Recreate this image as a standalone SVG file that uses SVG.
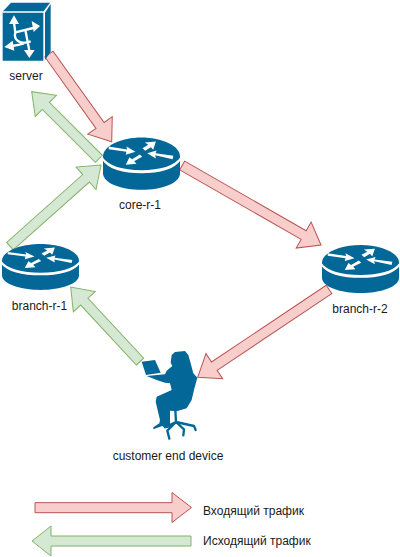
<svg xmlns="http://www.w3.org/2000/svg" xmlns:xlink="http://www.w3.org/1999/xlink" width="400" height="557" viewBox="0 0 400 557">
<style>
text{font-family:"Liberation Sans",Arial,sans-serif;font-size:12px;fill:#1a1a1a}
.m{text-anchor:middle}
.in{fill:#f8cecc;stroke:#b85450;stroke-width:1}
.out{fill:#d5e8d4;stroke:#82b366;stroke-width:1}
.blue{fill:#036897}
.wf{fill:#fff}
.ln{stroke:#fff;stroke-width:7;fill:none}
.st{stroke:#036897;stroke-width:7;fill:none;stroke-linecap:round;stroke-linejoin:round}
</style>
<defs>
<g id="router">
<path class="blue" d="M40,110V160C40,190 95,210 155,210S270,190 270,160V110C270,78 215,53 155,53S40,78 40,110z"/>
<path class="wf" d="M36,108C55,140 100,151 155,151S255,140 274,108V118C255,149 210,160 155,160S55,149 36,118z"/>
<polygon class="wf" points="57,80 112,89 110,80 137,96 108,105 110,96 57,88"/>
<polygon class="wf" points="150,104 157,111 133,124 140,132 108,135 119,112 127,118"/>
<polygon class="wf" points="158,85 166,93 183,82 190,90 198,65 165,68 175,75"/>
<polygon class="wf" points="250,108 248,118 196,106 198,116 172,100 200,92 197,100"/>
</g>
</defs>
<g id="connectors">
<polygon class="in" transform="translate(111.7,141.7) rotate(54.4)" points="0,0 -20,-15 -20,-5 -107.8,-5 -107.8,5 -20,5 -20,15"/>
<polygon class="out" transform="translate(31.7,91.7) rotate(225)" points="0,0 -20,-15 -20,-5 -95,-5 -95,5 -20,5 -20,15"/>
<polygon class="out" transform="translate(101,165) rotate(-41.7)" points="0,0 -20,-15 -20,-5 -122,-5 -122,5 -20,5 -20,15"/>
<polygon class="in" transform="translate(321,245) rotate(29.8)" points="0,0 -20,-15 -20,-5 -160,-5 -160,5 -20,5 -20,15"/>
<polygon class="in" transform="translate(197.7,377.3) rotate(146.2)" points="0,0 -20,-15 -20,-5 -158,-5 -158,5 -20,5 -20,15"/>
<polygon class="out" transform="translate(70.7,287) rotate(227.1)" points="0,0 -20,-15 -20,-5 -101.8,-5 -101.8,5 -20,5 -20,15"/>
<polygon class="in" points="35,502.7 172,502.7 172,492.5 191.5,507.5 172,522.5 172,512.7 35,512.7"/>
<polygon class="out" points="191,536 51,536 51,526 32,541 51,556 51,546 191,546"/>
</g>
<g id="server">
<g transform="scale(.3333)">
<path class="blue" d="M8,38H130V182H8z"/>
<path class="blue" d="M9,34L33,8H150L131,34z"/>
<path class="blue" d="M135,38L152,12V155L135,180z"/>
<path class="ln" d="M42,68L46,97M46,97L100,84M46,97C40,118 58,136 92,124M76,90C80,110 84,130 88,152M72,130C60,134 50,136 36,138"/>
<polygon class="wf" points="42,46 27,72 57,72"/>
<polygon class="wf" points="120,78 95,63 101,96"/>
<polygon class="wf" points="88,174 72,150 104,150"/>
<polygon class="wf" points="13,141 38,122 43,152"/>
</g>
<text class="m" x="26" y="80">server</text>
</g>
<g id="core-r-1"><use xlink:href="#router" href="#router" transform="translate(103,137.5) scale(.3348,.333) translate(-40,-53)"/><text class="m" x="140" y="209">core-r-1</text></g>
<g id="branch-r-1"><use xlink:href="#router" href="#router" transform="translate(2,244) scale(.3348,.293) translate(-40,-53)"/><text class="m" x="39.5" y="310">branch-r-1</text></g>
<g id="branch-r-2"><use xlink:href="#router" href="#router" transform="translate(322,245) scale(.3348,.306) translate(-40,-53)"/><text class="m" x="360" y="313">branch-r-2</text></g>
<g id="customer-end-device">
<g transform="translate(120,340) scale(.3333)">
<path class="blue" d="M65,65L105,60L122,98L78,105z"/>
<path class="blue" d="M80,108L135,103L140,92L157,78L152,68L155,45L165,36L195,33L205,45L212,70L220,100L232,113L222,150L215,180L200,205L170,214L150,212L150,250L153,262L135,265L127,258L100,268L100,262L118,250L120,240L107,185L110,170L155,150L150,130L135,128L110,120z"/>
<path class="st" d="M166,210L168,246M168,246L222,258L227,270M168,246L192,268L190,286M168,246L142,272L148,296M168,246L135,262"/>
</g>
<text class="m" x="168" y="460">customer end device</text>
</g>
<g id="legend">
<text x="203" y="515">Входящий трафик</text>
<text x="203" y="545">Исходящий трафик</text>
</g>
</svg>
